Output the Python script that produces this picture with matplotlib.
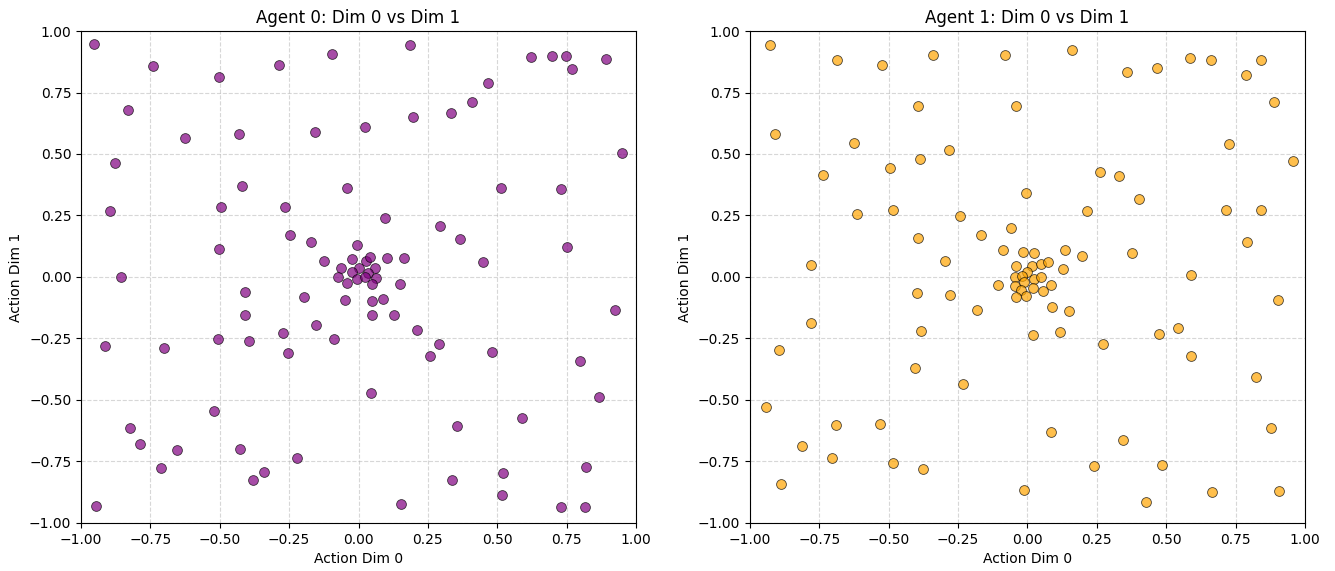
import matplotlib
matplotlib.use('Agg')
import matplotlib.pyplot as plt

# Agent 0 actions (dim 0, dim 1)
agent0_dim0 = [
    -0.952, -0.742, -0.502, -0.287, -0.095, -0.829, -0.626, -0.431, -0.157, -0.877,
    -0.420, -0.040, -0.896, -0.497, -0.266, -0.247, -0.503, -0.172, -0.124, -0.856,
    0.186, 0.621, 0.696, 0.748, 0.769, 0.893, 0.468, 0.409, 0.334, 0.197,
    0.022, 0.948, 0.515, 0.731, 0.097, 0.295, 0.366, 0.751, 0.450,
    -0.410, -0.195, -0.410, -0.153, -0.505, -0.395, -0.273, -0.255, -0.087, -0.912,
    -0.700, -0.522, -0.823, -0.786, -0.653, -0.426, -0.712, -0.221, -0.342, -0.380,
    -0.946,
    0.209, 0.291, 0.259, 0.480, 0.800, 0.926, 0.045, 0.868, 0.355, 0.589,
    0.819, 0.521, 0.338, 0.518, 0.153, 0.729, 0.816,
    -0.006, -0.025, 0.027, 0.042, 0.101, 0.165, -0.062, 0.003, 0.058, -0.023,
    0.034, -0.073, -0.004, 0.023, 0.064, -0.042, 0.049, 0.151, -0.047, 0.049,
    0.090, 0.049, 0.129,
]
agent0_dim1 = [
    0.947, 0.857, 0.811, 0.860, 0.905, 0.680, 0.564, 0.581, 0.588, 0.462,
    0.371, 0.363, 0.268, 0.283, 0.285, 0.171, 0.112, 0.143, 0.066, 0.002,
    0.943, 0.895, 0.900, 0.899, 0.847, 0.887, 0.788, 0.711, 0.668, 0.649,
    0.611, 0.503, 0.360, 0.356, 0.241, 0.208, 0.154, 0.121, 0.062,
    -0.061, -0.080, -0.154, -0.197, -0.251, -0.262, -0.228, -0.311, -0.253, -0.279,
    -0.288, -0.544, -0.613, -0.680, -0.702, -0.700, -0.775, -0.736, -0.791, -0.827,
    -0.931,
    -0.217, -0.271, -0.323, -0.304, -0.343, -0.135, -0.471, -0.489, -0.606, -0.575,
    -0.771, -0.795, -0.827, -0.887, -0.922, -0.935, -0.935,
    0.131, 0.074, 0.067, 0.083, 0.079, 0.079, 0.036, 0.036, 0.036, 0.020,
    0.016, 0.002, -0.007, 0.000, -0.006, -0.023, -0.030, -0.028, -0.092, -0.096,
    -0.089, -0.154, -0.154,
]

# Agent 1 actions (dim 0, dim 1)
agent1_dim0 = [
    -0.929, -0.688, -0.523, -0.342, -0.082, -0.394, -0.040, -0.909, -0.626, -0.282,
    -0.386, -0.497, -0.738, -0.005, -0.613, -0.484, -0.244, -0.396, -0.169, -0.060,
    -0.087, -0.779, -0.296,
    0.162, 0.359, 0.466, 0.584, 0.662, 0.787, 0.842, 0.888, 0.727, 0.958,
    0.260, 0.331, 0.403, 0.213, 0.716, 0.842, 0.791, 0.134, 0.196, 0.377,
    0.588,
    -0.107, -0.398, -0.280, -0.182, -0.779, -0.383, -0.894, -0.405, -0.234, -0.943,
    -0.691, -0.532, -0.811, -0.705, -0.484, -0.375, -0.889, -0.014,
    0.903, 0.090, 0.150, 0.019, 0.117, 0.271, 0.473, 0.542, 0.591, 0.824,
    0.877, 0.084, 0.344, 0.239, 0.486, 0.665, 0.907, 0.426,
    -0.017, 0.023, -0.041, 0.018, 0.047, 0.075, 0.127, -0.003, -0.046, -0.021,
    0.024, 0.047, -0.046, -0.012, 0.086, 0.019, -0.023, 0.057, -0.041, -0.007,
]
agent1_dim1 = [
    0.943, 0.883, 0.860, 0.904, 0.904, 0.694, 0.694, 0.580, 0.543, 0.517,
    0.480, 0.444, 0.414, 0.340, 0.256, 0.271, 0.247, 0.158, 0.170, 0.200,
    0.111, 0.049, 0.063,
    0.924, 0.835, 0.851, 0.892, 0.884, 0.822, 0.884, 0.710, 0.540, 0.471,
    0.428, 0.410, 0.316, 0.268, 0.271, 0.272, 0.144, 0.111, 0.087, 0.098,
    0.008,
    -0.032, -0.065, -0.073, -0.136, -0.186, -0.219, -0.298, -0.370, -0.435, -0.528,
    -0.603, -0.598, -0.688, -0.734, -0.755, -0.780, -0.841, -0.866,
    -0.095, -0.120, -0.140, -0.235, -0.223, -0.271, -0.230, -0.208, -0.323, -0.408,
    -0.614, -0.632, -0.663, -0.769, -0.765, -0.873, -0.869, -0.915,
    0.100, 0.097, 0.043, 0.044, 0.054, 0.059, 0.034, 0.020, 0.000, 0.004,
    -0.008, 0.000, -0.035, -0.022, -0.031, -0.045, -0.053, -0.057, -0.080, -0.077,
]

fig = plt.figure(figsize=(13.35, 5.71), dpi=100)
ax1 = fig.add_axes([0.0607, 0.0841, 0.4157, 0.8616])
ax2 = fig.add_axes([0.5618, 0.0841, 0.4157, 0.8616])

panels = [
    (ax1, agent0_dim0, agent0_dim1, 'purple', 'Agent 0: Dim 0 vs Dim 1'),
    (ax2, agent1_dim0, agent1_dim1, 'orange', 'Agent 1: Dim 0 vs Dim 1'),
]

for ax, xs, ys, color, title in panels:
    ax.scatter(xs, ys, s=50, c=color, alpha=0.7, edgecolors='black', linewidths=0.6, zorder=3)
    ax.set_xlim(-1, 1)
    ax.set_ylim(-1, 1)
    ax.set_title(title, fontsize=12)
    ax.set_xlabel('Action Dim 0', fontsize=10)
    ax.set_ylabel('Action Dim 1', fontsize=10)
    ax.tick_params(labelsize=10)
    ax.grid(True, linestyle='--', alpha=0.5)

fig.savefig('out.png', dpi=100)
